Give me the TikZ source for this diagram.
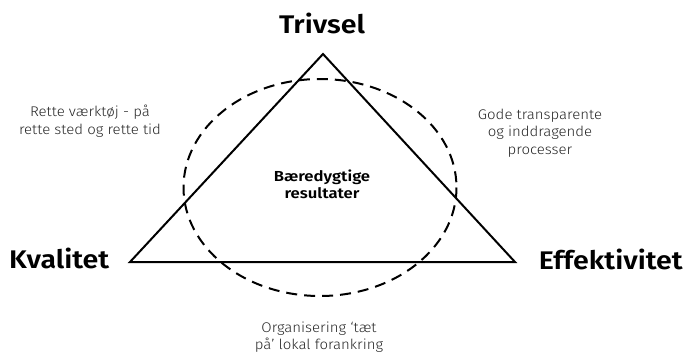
\documentclass[tikz,border=0pt]{standalone}
\usepackage{fontspec}
\setmainfont{Fira Sans}
\newfontfamily\boldface[FakeStretch=1.12]{Fira Sans SemiBold}
\newfontfamily\midface[FakeStretch=1.15]{Fira Sans SemiBold}
\newfontfamily\lightface[FakeStretch=1.07]{Fira Sans Light}
\begin{document}
\begin{tikzpicture}[x=1pt,y=-1pt,
  big/.style={font=\boldface\fontsize{25.5}{28}\selectfont, text=black, inner sep=0pt},
  small/.style={font=\lightface\fontsize{14}{17.5}\selectfont, text=black!85, align=center, inner sep=0pt},
  mid/.style={font=\midface\fontsize{14.5}{17}\selectfont, text=black, align=center, inner sep=0pt},
  tri/.style={line width=2pt, line join=miter},
  ring/.style={line width=2pt, dash pattern=on 11pt off 7pt}]
\useasboundingbox (0,0) rectangle (685,354);
\clip (0,0) rectangle (685,354);
\coordinate (A) at (323,54);
\coordinate (L) at (130,262);
\coordinate (R) at (515,262);
\coordinate (E) at (320,187.5);
\draw[tri] (A) -- (L) -- (R) -- cycle;
\draw[ring] (E) ellipse [x radius=136.5, y radius=108.5];
\node[big] (trivsel) at (322,23) {Trivsel};
\node[big, anchor=west] (kval) at (9,258) {Kvalitet};
\node[big, anchor=east] (eff) at (683,259) {Effektivitet};
\node[small] (rette) at (90,121) {Rette værktøj - på\\rette sted og rette tid};
\node[small] (gode) at (540,133) {Gode transparente\\og inddragende\\processer};
\node[mid] (baer) at (322,184) {Bæredygtige\\resultater};
\node[small] (org) at (319,337) {Organisering ‘tæt\\på’ lokal forankring};
\end{tikzpicture}
\end{document}
